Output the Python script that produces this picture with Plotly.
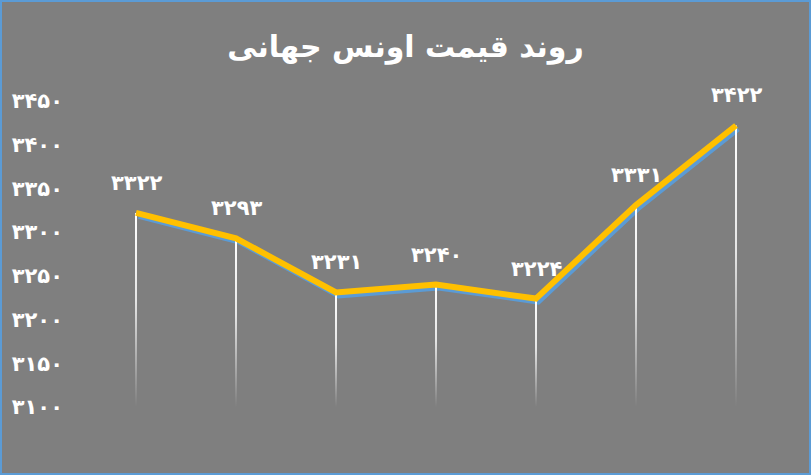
import plotly.graph_objects as go

# داده‌ها
prices = [3322, 3293, 3231, 3240, 3224, 3331, 3422]
tick_values = [3100, 3150, 3200, 3250, 3300, 3350, 3400, 3450]
title_text = "روند قیمت اونس جهانی"

fa_digits = str.maketrans("0123456789", "۰۱۲۳۴۵۶۷۸۹")


def to_fa(n):
    return str(n).translate(fa_digits)


tick_labels = [to_fa(v) for v in tick_values]
positions = list(range(len(prices)))

W, H = 811, 475
ml, mr, mt, mb = 86, 25, 101, 68
y_min, y_max = 3100, 3450
bg = "#7f7f7f"
font_name = "DejaVu Sans"

fig = go.Figure()

# خط آبی (سایه) روی محور پایه با کمی جابجایی
fig.add_trace(go.Scatter(
    x=positions, y=prices, mode="lines",
    line=dict(color="#5b9bd5", width=4),
    xaxis="x", yaxis="y", hoverinfo="skip", showlegend=False,
))

# خطوط عمودی سفید با محو شدن به پایین
for px_, val in zip(positions, prices):
    hw = 0.01
    fig.add_trace(go.Scatter(
        x=[px_ - hw, px_ + hw, px_ + hw, px_ - hw, px_ - hw],
        y=[y_min, y_min, val, val, y_min],
        mode="lines", line=dict(width=0), fill="toself",
        fillgradient=dict(
            type="vertical", start=y_min, stop=val,
            colorscale=[[0, "rgba(255,255,255,0)"], [0.55, "rgba(255,255,255,0.8)"], [1, "rgba(255,255,255,1)"]],
        ),
        xaxis="x2", yaxis="y2", hoverinfo="skip", showlegend=False,
    ))

# خط زرد اصلی
fig.add_trace(go.Scatter(
    x=positions, y=prices, mode="lines",
    line=dict(color="#ffc000", width=6),
    xaxis="x2", yaxis="y2", showlegend=False,
))

# برچسب مقادیر
for px_, val in zip(positions, prices):
    fig.add_annotation(
        x=px_, y=val, xref="x2", yref="y2", text=to_fa(val),
        showarrow=False, yshift=30,
        font=dict(family=font_name, size=21, color="white", weight="bold"),
    )

# کادر آبی دور نمودار
pw, ph = W - ml - mr, H - mt - mb
fig.add_shape(
    type="rect", xref="paper", yref="paper",
    x0=(1 - ml) / pw, x1=(W - 1 - ml) / pw,
    y0=(1 - mb) / ph, y1=(H - 1 - mb) / ph,
    line=dict(color="#5b9bd5", width=2), layer="above",
)

shift_x = 0.025
shift_y = 4.5
fig.update_layout(
    width=W, height=H,
    margin=dict(l=ml, r=mr, t=mt, b=mb),
    paper_bgcolor=bg, plot_bgcolor=bg,
    title=dict(
        text=title_text, x=0.5, xref="container", xanchor="center",
        y=1 - 46 / H, yref="container", yanchor="middle",
        font=dict(family=font_name, size=30, color="white", weight="bold"),
    ),
    xaxis=dict(range=[-0.5 - shift_x, 6.5 - shift_x], visible=False, fixedrange=True),
    yaxis=dict(range=[y_min + shift_y, y_max + shift_y], visible=False, fixedrange=True),
    xaxis2=dict(range=[-0.5, 6.5], overlaying="x", visible=False),
    yaxis2=dict(
        range=[y_min, y_max], overlaying="y", side="left",
        tickvals=tick_values, ticktext=tick_labels,
        showgrid=False, zeroline=False, showline=False, ticks="",
        ticklabelstandoff=22,
        tickfont=dict(family=font_name, size=21, color="white", weight="bold"),
    ),
)

fig.write_html(
    "out.html",
    config={"displayModeBar": False},
    post_script="document.body.style.margin='0';",
)
